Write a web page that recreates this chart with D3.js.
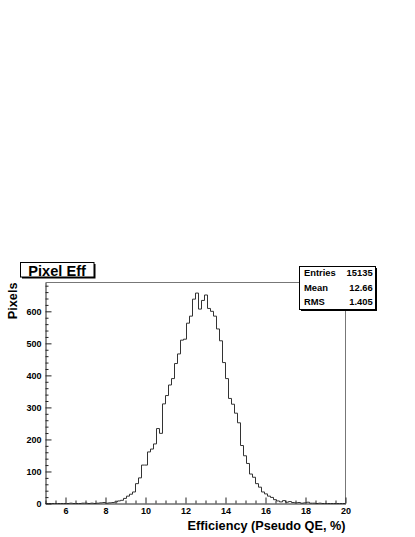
<!DOCTYPE html>
<html>
<head>
<meta charset="utf-8">
<script src="https://cdn.jsdelivr.net/npm/d3@7"></script>
<style>
  body { margin: 0; background: #fff; }
  text { font-family: "Liberation Sans", Helvetica, Arial, sans-serif; font-weight: bold; }
</style>
</head>
<body>
<div id="chart"></div>
<script>
// histogram definition (100 bins from 5 to 20)
var histMin = 5, histMax = 20;
var binCounts = [
  0,0,0,0,0,0,0,0,1,0,0,0,
  1,1,0,1,0,1,2,3,1,2,3,5,
  8,10,16,23,29,36,62,80,120,120,161,170,
  186,234,219,311,337,370,390,437,467,510,513,563,
  585,638,657,607,634,651,609,600,585,545,508,440,
  390,328,310,282,252,181,149,125,92,82,62,51,
  36,30,23,19,12,8,5,9,4,6,3,2,
  3,1,2,4,1,1,0,1,0,0,0,0,
  0,0,0,0
];
var yMax = 690;
var xTicks = [6, 8, 10, 12, 14, 16, 18, 20];
var yTicks = [0, 100, 200, 300, 400, 500, 600];
var statLabels = ["Entries", "Mean", "RMS"];
var statValues = ["15135", "12.66", "1.405"];
var histTitle = "Pixel Eff";
var xTitle = "Efficiency (Pseudo QE, %)";
var yTitle = "Pixels";

var width = 415, height = 537;
var svg = d3.select('#chart').append('svg')
  .attr("width", width)
  .attr("height", height);

svg.append("rect")
  .attr("width", "100%")
  .attr("height", "100%")
  .attr("fill", "#fff");

var x = d3.scaleLinear().domain([histMin, histMax]).range([45.5, 345.5]);
var y = d3.scaleLinear().domain([0, yMax]).range([503.5, 282.5]);

// frame (top and right)
svg.append("path")
  .attr("d", "M" + x(histMin) + "," + y(yMax) + "H" + x(histMax) + "V" + y(0))
  .attr("fill", "none")
  .attr("stroke", "#777")
  .attr("stroke-width", 1);

// histogram outline
var binW = (histMax - histMin) / binCounts.length;
var pts = binCounts.map(function(c, i) { return [histMin + i * binW, c]; });
pts.push([histMax, binCounts[binCounts.length - 1]]);
var line = d3.line()
  .x(function(d) { return x(d[0]); })
  .y(function(d) { return y(d[1]); })
  .curve(d3.curveStepAfter);
svg.append("path")
  .datum(pts)
  .attr("d", line)
  .attr("fill", "none")
  .attr("stroke", "#333")
  .attr("stroke-width", 1);

// minor ticks
var xMinor = d3.range(histMin, histMax + 0.01, 0.5).filter(function(v) { return xTicks.indexOf(v) < 0; });
var yMinor = d3.range(0, yMax, 20).filter(function(v) { return yTicks.indexOf(v) < 0; });

var xAxisMinor = svg.append("g")
  .attr("transform", "translate(0," + y(0) + ")")
  .call(d3.axisBottom(x).tickValues(xMinor).tickSize(-3).tickFormat(""));
var yAxisMinor = svg.append("g")
  .attr("transform", "translate(" + x(histMin) + ",0)")
  .call(d3.axisLeft(y).tickValues(yMinor).tickSize(-3).tickFormat(""));

var xAxis = svg.append("g")
  .attr("transform", "translate(0," + y(0) + ")")
  .call(d3.axisBottom(x).tickValues(xTicks).tickSize(-6).tickPadding(4).tickSizeOuter(0));
var yAxis = svg.append("g")
  .attr("transform", "translate(" + x(histMin) + ",0)")
  .call(d3.axisLeft(y).tickValues(yTicks).tickSize(-6).tickPadding(4).tickSizeOuter(0));

[xAxisMinor, yAxisMinor].forEach(function(a) { a.select(".domain").remove(); });
[xAxisMinor, yAxisMinor, xAxis, yAxis].forEach(function(a) {
  a.selectAll("line").attr("stroke", "#222");
  a.selectAll(".domain").attr("stroke", "#222");
  a.selectAll("text")
    .attr("fill", "#000")
    .style("font-family", '"Liberation Sans", Helvetica, Arial, sans-serif')
    .style("font-weight", "bold")
    .style("font-size", "9px");
});

// axis titles
svg.append("text")
  .attr("x", x(histMax))
  .attr("y", 529.5)
  .attr("text-anchor", "end")
  .style("font-size", "12.7px")
  .text(xTitle);

svg.append("text")
  .attr("transform", "translate(17.3," + y(yMax) + ") rotate(-90)")
  .attr("text-anchor", "end")
  .style("font-size", "12.7px")
  .text(yTitle);

// boxes with a shadow like ROOT panes
function shadowBox(bx, by, bw, bh) {
  svg.append("rect")
    .attr("x", bx + 1.5).attr("y", by + 1.5)
    .attr("width", bw).attr("height", bh)
    .attr("fill", "#000");
  svg.append("rect")
    .attr("x", bx).attr("y", by)
    .attr("width", bw).attr("height", bh)
    .attr("fill", "#fff")
    .attr("stroke", "#000")
    .attr("stroke-width", 1);
}

// title box
shadowBox(20.5, 262.5, 73.5, 14.5);
svg.append("text")
  .attr("x", 28.3)
  .attr("y", 275.8)
  .style("font-size", "14.6px")
  .text(histTitle);

// stats box
shadowBox(299.5, 266.5, 76, 43);
statLabels.forEach(function(lab, i) {
  var by = 276 + i * 14.5;
  svg.append("text")
    .attr("x", 304)
    .attr("y", by)
    .style("font-size", "9.4px")
    .text(lab);
  svg.append("text")
    .attr("x", 372.7)
    .attr("y", by)
    .attr("text-anchor", "end")
    .style("font-size", "9.4px")
    .text(statValues[i]);
});
</script>
</body>
</html>
